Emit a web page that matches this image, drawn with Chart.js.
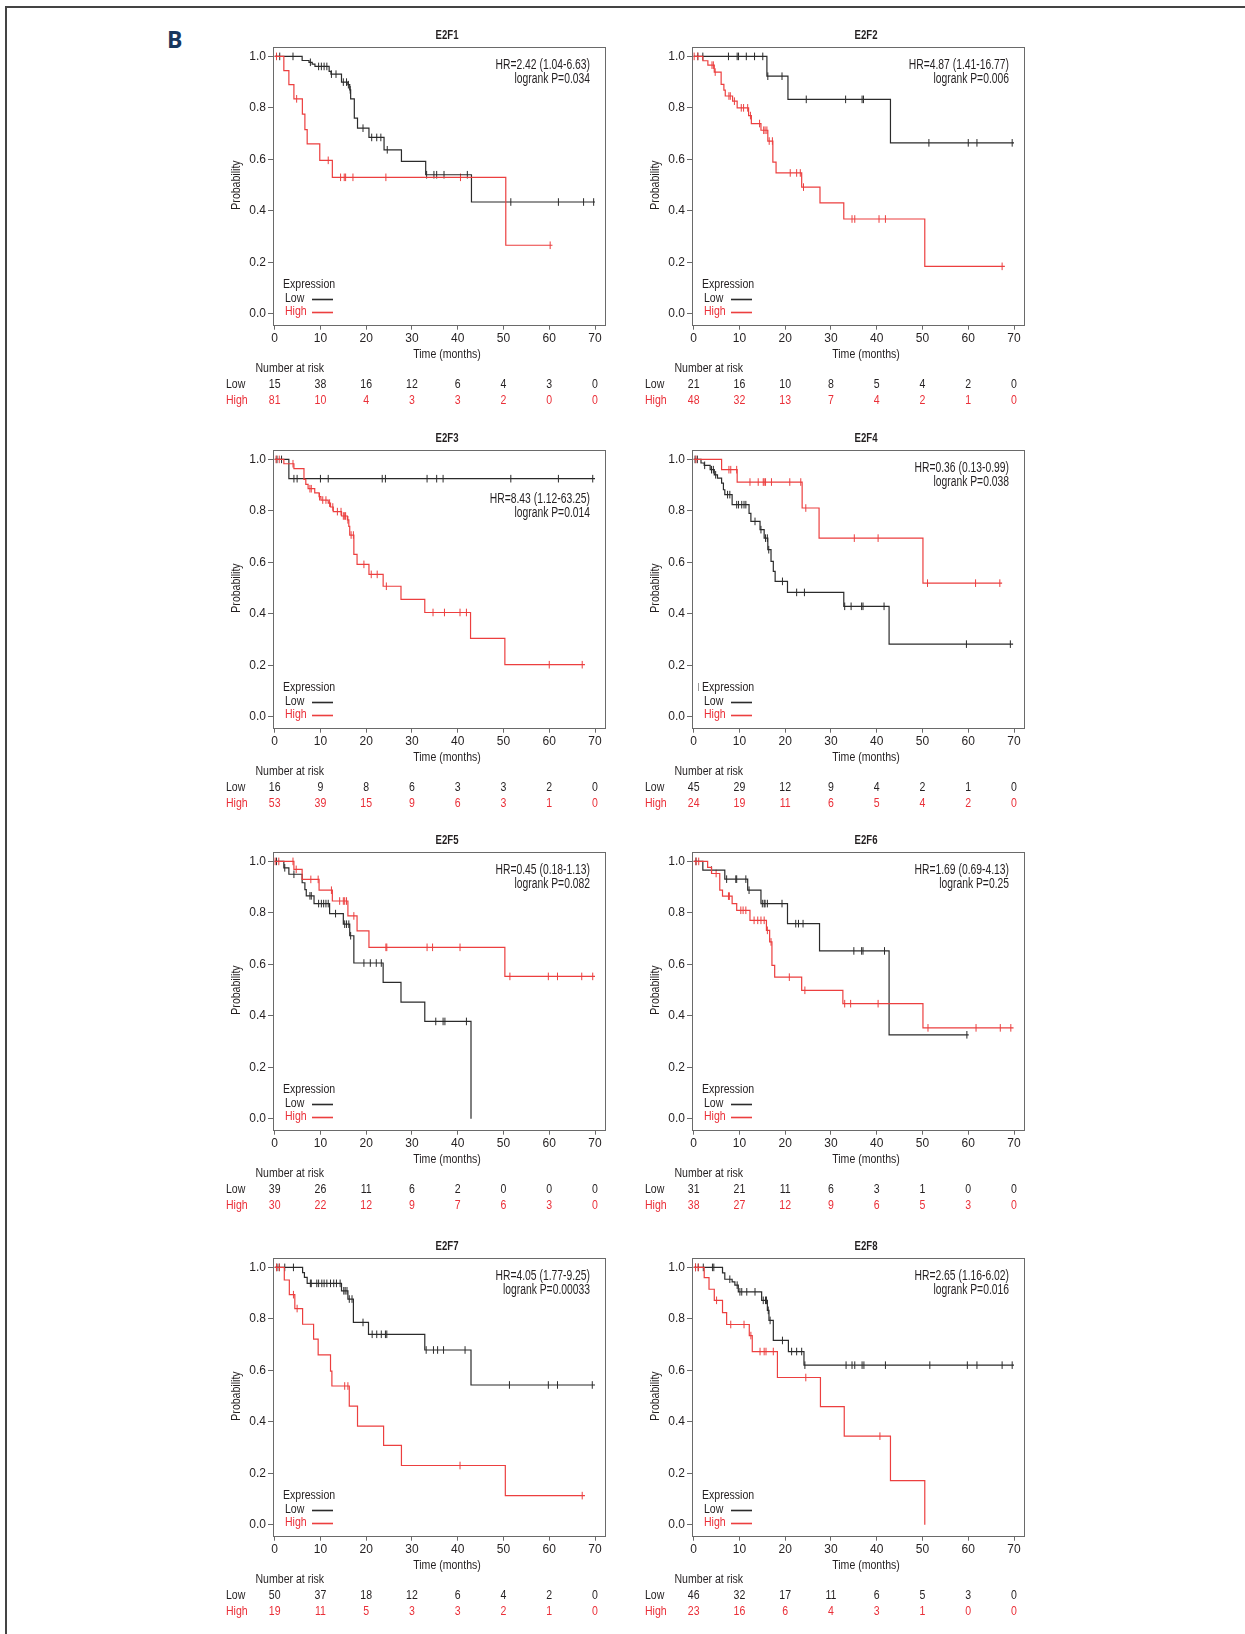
<!DOCTYPE html>
<html>
<head>
<meta charset="utf-8">
<script src="https://cdn.jsdelivr.net/npm/chart.js@4.4.0/dist/chart.umd.min.js"></script>
<style>
  html, body { margin: 0; padding: 0; background: #fff; }
  body { width: 1245px; height: 1634px; position: relative; overflow: hidden; }
  #frame { position: absolute; left: 5px; top: 6px; width: 1300px; height: 1700px;
           border-top: 2px solid #444; border-left: 2px solid #444; }
  #tag { position: absolute; left: 167px; top: 28px; font: bold 23px 'Open Sans', sans-serif;
         line-height: 23px; color: #17365d; }
  canvas { position: absolute; }
</style>
</head>
<body>
<div id="frame"></div>
<div id="tag">B</div>
<script>
// ---- data ----
const genes = ['E2F1', 'E2F2', 'E2F3', 'E2F4', 'E2F5', 'E2F6', 'E2F7', 'E2F8'];
const timeTicks = [0, 10, 20, 30, 40, 50, 60, 70];
const probTicks = [0, 0.2, 0.4, 0.6, 0.8, 1.0];

const hrLines = ['HR=2.42 (1.04-6.63)', 'HR=4.87 (1.41-16.77)', 'HR=8.43 (1.12-63.25)', 'HR=0.36 (0.13-0.99)',
                 'HR=0.45 (0.18-1.13)', 'HR=1.69 (0.69-4.13)', 'HR=4.05 (1.77-9.25)', 'HR=2.65 (1.16-6.02)'];
const pLines = ['logrank P=0.034', 'logrank P=0.006', 'logrank P=0.014', 'logrank P=0.038',
                'logrank P=0.082', 'logrank P=0.25', 'logrank P=0.00033', 'logrank P=0.016'];

// E2F1
const e2f1LowT = [0, 6.0, 7.5, 8.2, 8.8, 11.9, 12.3, 14.6, 16.0, 16.4, 16.6, 17.4, 18.1, 20.6, 23.9, 27.7, 33.0, 43.0, 70.0];
const e2f1LowS = [1, 0.984, 0.977, 0.970, 0.961, 0.942, 0.931, 0.900, 0.890, 0.870, 0.835, 0.760, 0.721, 0.685, 0.637, 0.592, 0.540, 0.434, 0.434];
const e2f1LowC = [1.1, 4.0, 7.8, 9.6, 10.2, 10.8, 11.4, 12.4, 13.4, 15.0, 15.7, 16.1, 16.5, 19.3, 21.2, 22.3, 23.2, 24.6, 33.2, 34.8, 35.4, 37.0, 42.1, 51.6, 62.0, 67.5, 69.7];
const e2f1HighT = [0, 2.0, 3.1, 4.2, 6.05, 6.6, 7.1, 9.85, 12.6, 50.5, 60.7];
const e2f1HighS = [1, 0.945, 0.890, 0.835, 0.776, 0.715, 0.660, 0.596, 0.530, 0.266, 0.266];
const e2f1HighC = [0.4, 4.8, 11.7, 14.4, 15.2, 15.5, 17.1, 24.3, 40.6, 60.2];
const e2f1RiskLow = [15, 38, 16, 12, 6, 4, 3, 0];
const e2f1RiskHigh = [81, 10, 4, 3, 3, 2, 0, 0];

// E2F2
const e2f2LowT = [0, 16.0, 20.6, 43.0, 70.0];
const e2f2LowS = [1, 0.923, 0.833, 0.664, 0.664];
const e2f2LowC = [0.9, 2.0, 7.6, 9.5, 9.8, 11.5, 13.3, 15.1, 16.2, 19.3, 24.6, 33.2, 36.8, 37.1, 51.4, 60.0, 61.9, 69.6];
const e2f2HighT = [0, 2.0, 3.1, 4.5, 6.0, 6.6, 6.9, 8.5, 9.5, 12.0, 12.6, 14.7, 16.2, 17.3, 18.0, 23.6, 27.6, 32.8, 50.5, 68.0];
const e2f2HighS = [1, 0.983, 0.966, 0.939, 0.891, 0.869, 0.846, 0.826, 0.800, 0.770, 0.739, 0.713, 0.671, 0.589, 0.547, 0.492, 0.431, 0.368, 0.184, 0.184];
const e2f2HighC = [0.1, 0.9, 4.0, 4.3, 4.7, 7.7, 8.0, 8.9, 10.4, 10.9, 11.8, 12.4, 14.4, 15.3, 15.6, 16.0, 16.5, 17.2, 21.1, 22.5, 23.3, 24.0, 34.6, 35.2, 40.5, 41.9, 67.4];
const e2f2RiskLow = [21, 16, 10, 8, 5, 4, 2, 0];
const e2f2RiskHigh = [48, 32, 13, 7, 4, 2, 1, 0];

// E2F3
const e2f3LowT = [0, 3.1, 70.0];
const e2f3LowS = [1, 0.925, 0.925];
const e2f3LowC = [0.5, 1.5, 4.2, 4.9, 10.0, 11.7, 23.5, 24.2, 33.3, 35.4, 36.8, 51.6, 62.0, 69.5];
const e2f3HighT = [0, 2.0, 4.2, 6.4, 6.8, 7.3, 8.75, 9.7, 10.1, 11.7, 12.2, 12.8, 14.6, 15.9, 16.2, 16.4, 17.3, 18.0, 20.6, 23.7, 27.6, 32.8, 42.8, 50.3, 67.8];
const e2f3HighS = [1, 0.983, 0.964, 0.922, 0.903, 0.886, 0.870, 0.855, 0.842, 0.830, 0.815, 0.797, 0.780, 0.765, 0.740, 0.706, 0.631, 0.592, 0.553, 0.507, 0.456, 0.405, 0.304, 0.202, 0.202];
const e2f3HighC = [0.3, 1.0, 4.0, 7.7, 8.0, 9.8, 10.5, 11.2, 12.0, 12.7, 13.7, 14.5, 15.0, 15.3, 15.5, 16.0, 16.7, 17.2, 19.5, 21.1, 22.4, 24.4, 34.6, 37.1, 40.5, 41.9, 60.0, 67.2];
const e2f3RiskLow = [16, 9, 8, 6, 3, 3, 2, 0];
const e2f3RiskHigh = [53, 39, 15, 9, 6, 3, 1, 0];

// E2F4
const e2f4LowT = [0, 1.6, 2.3, 3.6, 4.5, 5.2, 6.1, 6.5, 6.8, 8.4, 12.1, 12.5, 14.5, 15.4, 16.2, 16.9, 17.4, 17.8, 20.5, 32.8, 42.7, 69.8];
const e2f4LowS = [1, 0.986, 0.977, 0.960, 0.940, 0.927, 0.908, 0.882, 0.863, 0.824, 0.790, 0.759, 0.727, 0.694, 0.649, 0.604, 0.565, 0.526, 0.483, 0.429, 0.282, 0.282];
const e2f4LowC = [0.3, 0.8, 2.4, 3.9, 4.3, 4.8, 7.4, 7.9, 9.4, 9.8, 10.5, 11.0, 11.4, 13.4, 14.7, 15.7, 16.1, 16.4, 19.4, 22.5, 24.2, 33.0, 34.4, 36.7, 37.0, 41.6, 59.6, 69.2];
const e2f4HighT = [0, 6.1, 9.5, 23.7, 27.4, 50.1, 67.4];
const e2f4HighS = [1, 0.960, 0.912, 0.811, 0.694, 0.519, 0.519];
const e2f4HighC = [0.5, 7.7, 8.1, 9.4, 12.3, 14.1, 15.2, 15.4, 15.7, 17.0, 21.0, 23.4, 24.5, 35.1, 40.3, 51.1, 61.6, 66.9];
const e2f4RiskLow = [45, 29, 12, 9, 4, 2, 1, 0];
const e2f4RiskHigh = [24, 19, 11, 6, 5, 4, 2, 0];

// E2F5
const e2f5LowT = [0, 2.0, 3.1, 6.0, 6.6, 6.9, 8.6, 12.0, 15.0, 16.4, 17.3, 23.7, 27.6, 32.8, 42.9];
const e2f5LowS = [1, 0.975, 0.950, 0.917, 0.890, 0.866, 0.836, 0.797, 0.756, 0.711, 0.605, 0.530, 0.453, 0.378, 0.0];
const e2f5LowC = [0.4, 2.2, 4.2, 7.7, 8.0, 9.6, 10.2, 10.7, 11.2, 11.7, 13.3, 15.3, 15.7, 16.2, 16.6, 19.5, 20.9, 22.2, 23.3, 35.2, 36.8, 37.2, 41.9];
const e2f5HighT = [0, 4.2, 6.0, 9.7, 12.6, 16.0, 18.0, 20.6, 50.3, 70.0];
const e2f5HighS = [1, 0.969, 0.930, 0.888, 0.846, 0.788, 0.730, 0.666, 0.553, 0.553];
const e2f5HighC = [0.1, 0.9, 4.0, 4.7, 7.9, 9.5, 12.4, 14.2, 15.0, 15.3, 15.7, 17.3, 24.3, 24.5, 33.3, 34.5, 40.5, 51.4, 59.8, 61.8, 67.1, 69.5];
const e2f5RiskLow = [39, 26, 11, 6, 2, 0, 0, 0];
const e2f5RiskHigh = [30, 22, 12, 9, 7, 6, 3, 0];

// E2F6
const e2f6LowT = [0, 2.0, 6.8, 11.8, 14.7, 20.5, 27.5, 42.7, 60.1];
const e2f6LowS = [1, 0.966, 0.931, 0.888, 0.836, 0.758, 0.652, 0.326, 0.326];
const e2f6LowC = [0.5, 3.9, 7.2, 9.2, 9.4, 11.4, 12.1, 15.0, 15.4, 15.6, 16.1, 19.3, 22.3, 22.9, 23.9, 35.0, 36.7, 37.0, 41.7, 59.7];
const e2f6HighT = [0, 3.05, 3.9, 5.7, 6.3, 8.4, 9.4, 12.3, 15.9, 16.6, 17.1, 17.7, 23.6, 32.6, 50.1, 69.9];
const e2f6HighS = [1, 0.977, 0.953, 0.888, 0.865, 0.836, 0.810, 0.771, 0.732, 0.687, 0.596, 0.550, 0.499, 0.447, 0.353, 0.353];
const e2f6HighC = [0.5, 1.1, 4.9, 7.6, 7.8, 10.3, 10.8, 11.4, 13.2, 14.0, 14.7, 15.4, 16.1, 16.9, 20.9, 24.3, 33.0, 34.3, 40.3, 51.2, 61.7, 67.0, 69.3];
const e2f6RiskLow = [31, 21, 11, 6, 3, 1, 0, 0];
const e2f6RiskHigh = [38, 27, 12, 9, 6, 5, 3, 0];

// E2F7
const e2f7LowT = [0, 6.1, 6.5, 7.1, 14.6, 16.0, 17.2, 20.5, 32.8, 42.9, 70.0];
const e2f7LowS = [1, 0.980, 0.961, 0.938, 0.909, 0.877, 0.786, 0.740, 0.679, 0.543, 0.543];
const e2f7LowC = [0.5, 1.0, 2.2, 4.1, 7.8, 8.0, 9.2, 9.6, 10.3, 10.8, 11.4, 12.2, 12.9, 13.5, 14.3, 15.1, 15.4, 15.8, 16.3, 16.9, 19.3, 21.3, 22.3, 23.3, 24.2, 24.5, 33.1, 34.7, 35.6, 36.9, 41.6, 51.3, 59.8, 61.8, 69.4];
const e2f7HighT = [0, 2.1, 3.2, 4.4, 6.1, 8.5, 9.5, 12.2, 12.5, 16.3, 18.1, 23.8, 27.7, 50.4, 67.8];
const e2f7HighS = [1, 0.951, 0.894, 0.840, 0.779, 0.721, 0.660, 0.597, 0.539, 0.461, 0.383, 0.308, 0.230, 0.113, 0.113];
const e2f7HighC = [0.4, 1.0, 4.1, 4.9, 15.3, 16.0, 40.5, 67.2];
const e2f7RiskLow = [50, 37, 18, 12, 6, 4, 2, 0];
const e2f7RiskHigh = [19, 11, 5, 3, 3, 2, 1, 0];

// E2F8
const e2f8LowT = [0, 6.3, 6.8, 8.4, 9.0, 9.75, 14.85, 16.1, 16.45, 17.4, 20.7, 24.1, 70.0];
const e2f8LowS = [1, 0.979, 0.954, 0.944, 0.931, 0.905, 0.872, 0.833, 0.794, 0.716, 0.673, 0.620, 0.620];
const e2f8LowC = [0.4, 1.0, 2.1, 4.1, 4.4, 7.9, 9.5, 10.1, 10.5, 11.6, 13.4, 15.2, 15.7, 15.9, 16.3, 16.7, 19.4, 21.4, 22.5, 23.6, 24.3, 33.3, 34.6, 35.2, 36.8, 37.2, 41.9, 51.6, 59.8, 61.9, 67.4, 69.6];
const e2f8HighT = [0, 2.3, 3.35, 4.5, 6.3, 7.2, 12.15, 12.8, 18.3, 27.7, 32.9, 43.0, 50.5];
const e2f8HighS = [1, 0.960, 0.915, 0.872, 0.824, 0.778, 0.735, 0.673, 0.572, 0.459, 0.344, 0.171, 0.0];
const e2f8HighC = [0.4, 1.0, 5.0, 8.1, 11.0, 12.5, 14.5, 15.4, 15.8, 17.4, 24.5, 40.7];
const e2f8RiskLow = [46, 32, 17, 11, 6, 5, 3, 0];
const e2f8RiskHigh = [23, 16, 6, 4, 3, 1, 0, 0];

// ---- look ----
const BLACK = '#2b2b2b';
const RED = '#ec3f3f';
const TXT = '#231f20';
const TXT_RED = '#ea2f38';
const AXIS = '#6a6a6a';

// pick a narrow face if it exists, else squeeze a normal one
function hasFont(name) {
  const c = document.createElement('canvas').getContext('2d');
  c.font = '40px monospace';
  const a = c.measureText('mmmwwwiii0123HR').width;
  c.font = "40px '" + name + "', monospace";
  return c.measureText('mmmwwwiii0123HR').width !== a;
}
const NARROW = hasFont('Liberation Sans Narrow');
const FAM = NARROW ? "'Liberation Sans Narrow', sans-serif" : "'Liberation Sans', Arial, sans-serif";
const K = NARROW ? 1 : 0.82;        // extra squeeze for a normal-width face
const SX_TXT = 0.99 * K;
const SX_HR = 0.9 * K;
const SX_BOLD = 0.9 * K;
const TICK_SIZE = NARROW ? 13.5 : 12;

function put(ctx, s, x, y, align, size, bold, color, sx, rot) {
  ctx.save();
  ctx.translate(x, y);
  if (rot) ctx.rotate(rot);
  ctx.scale(sx, 1);
  ctx.font = (bold ? 'bold ' : '') + size + 'px ' + FAM;
  ctx.fillStyle = color;
  ctx.textAlign = align;
  ctx.textBaseline = 'middle';
  ctx.fillText(s, 0, 0);
  ctx.restore();
}

function curve(ts, ss) {
  return ts.map((t, i) => ({ x: t, y: ss[i] }));
}
// censor marks sit on the step curve
function marks(cs, ts, ss) {
  return cs.map(c => {
    let v = ss[0];
    for (let i = 0; i < ts.length; i++) if (ts[i] <= c) v = ss[i];
    return { x: c, y: v };
  });
}

const panels = [
  { lowT: e2f1LowT, lowS: e2f1LowS, lowC: e2f1LowC, highT: e2f1HighT, highS: e2f1HighS, highC: e2f1HighC, rl: e2f1RiskLow, rh: e2f1RiskHigh, hrY: 18 },
  { lowT: e2f2LowT, lowS: e2f2LowS, lowC: e2f2LowC, highT: e2f2HighT, highS: e2f2HighS, highC: e2f2HighC, rl: e2f2RiskLow, rh: e2f2RiskHigh, hrY: 18 },
  { lowT: e2f3LowT, lowS: e2f3LowS, lowC: e2f3LowC, highT: e2f3HighT, highS: e2f3HighS, highC: e2f3HighC, rl: e2f3RiskLow, rh: e2f3RiskHigh, hrY: 49 },
  { lowT: e2f4LowT, lowS: e2f4LowS, lowC: e2f4LowC, highT: e2f4HighT, highS: e2f4HighS, highC: e2f4HighC, rl: e2f4RiskLow, rh: e2f4RiskHigh, hrY: 18, stray: true },
  { lowT: e2f5LowT, lowS: e2f5LowS, lowC: e2f5LowC, highT: e2f5HighT, highS: e2f5HighS, highC: e2f5HighC, rl: e2f5RiskLow, rh: e2f5RiskHigh, hrY: 18 },
  { lowT: e2f6LowT, lowS: e2f6LowS, lowC: e2f6LowC, highT: e2f6HighT, highS: e2f6HighS, highC: e2f6HighC, rl: e2f6RiskLow, rh: e2f6RiskHigh, hrY: 18 },
  { lowT: e2f7LowT, lowS: e2f7LowS, lowC: e2f7LowC, highT: e2f7HighT, highS: e2f7HighS, highC: e2f7HighC, rl: e2f7RiskLow, rh: e2f7RiskHigh, hrY: 18 },
  { lowT: e2f8LowT, lowS: e2f8LowS, lowC: e2f8LowC, highT: e2f8HighT, highS: e2f8HighS, highC: e2f8HighC, rl: e2f8RiskLow, rh: e2f8RiskHigh, hrY: 18 }
];

// frame, titles, legend, HR text and the risk table
const kmDecor = {
  id: 'kmDecor',
  afterDraw(chart, args, o) {
    const ctx = chart.ctx, a = chart.chartArea, xs = chart.scales.x, ys = chart.scales.y;
    const L = a.left, T = a.top;
    ctx.save();
    ctx.strokeStyle = AXIS;
    ctx.lineWidth = 1;
    ctx.strokeRect(Math.round(L) - 0.5, Math.round(T) + 0.5, Math.round(a.right - L), Math.round(a.bottom - T));

    put(ctx, o.gene, L + 173, T - 12, 'center', 13, true, TXT, SX_BOLD);
    put(ctx, o.hr, L + 316, T + o.hrY, 'right', 14, false, TXT, SX_HR);
    put(ctx, o.p, L + 316, T + o.hrY + 14, 'right', 14, false, TXT, SX_HR);

    // legend
    put(ctx, 'Expression', L + 9, T + 237, 'left', 13, false, TXT, SX_TXT);
    put(ctx, 'Low', L + 11, T + 251, 'left', 13, false, TXT, SX_TXT);
    put(ctx, 'High', L + 11, T + 264.5, 'left', 13, false, TXT_RED, SX_TXT);
    ctx.lineWidth = 1.6;
    ctx.strokeStyle = BLACK;
    ctx.beginPath(); ctx.moveTo(L + 38, T + 252.5); ctx.lineTo(L + 59, T + 252.5); ctx.stroke();
    ctx.strokeStyle = RED;
    ctx.beginPath(); ctx.moveTo(L + 38, T + 265.5); ctx.lineTo(L + 59, T + 265.5); ctx.stroke();
    if (o.stray) {
      ctx.strokeStyle = '#999';
      ctx.lineWidth = 1;
      ctx.beginPath(); ctx.moveTo(L + 5.5, T + 233); ctx.lineTo(L + 5.5, T + 241); ctx.stroke();
    }

    // axis titles
    const yMid = (ys.getPixelForValue(0) + ys.getPixelForValue(1)) / 2;
    put(ctx, 'Probability', L - 38, yMid, 'center', 13, false, TXT, SX_TXT, -Math.PI / 2);
    put(ctx, 'Time (months)', L + 173, T + 307.5, 'center', 13, false, TXT, SX_TXT);

    // number at risk
    put(ctx, 'Number at risk', L - 18.5, T + 321, 'left', 13, false, TXT, SX_TXT);
    put(ctx, 'Low', L - 48, T + 337.5, 'left', 13, false, TXT, SX_TXT);
    put(ctx, 'High', L - 48, T + 353, 'left', 13, false, TXT_RED, SX_TXT);
    timeTicks.forEach((t, i) => {
      const px = xs.getPixelForValue(t);
      put(ctx, String(o.rl[i]), px, T + 337.5, 'center', 13, false, TXT, SX_TXT);
      put(ctx, String(o.rh[i]), px, T + 353, 'center', 13, false, TXT_RED, SX_TXT);
    });
    ctx.restore();
  }
};

const CW = 410, CH = 395;
const colLeft = [215, 634];
const rowTop = [17, 420, 822, 1228];

panels.forEach((p, i) => {
  const cv = document.createElement('canvas');
  cv.width = CW; cv.height = CH;
  cv.style.width = CW + 'px'; cv.style.height = CH + 'px';
  cv.style.left = colLeft[i % 2] + 'px';
  cv.style.top = rowTop[Math.floor(i / 2)] + 'px';
  document.body.appendChild(cv);

  const tickFont = { family: FAM, size: TICK_SIZE };
  new Chart(cv, {
    type: 'line',
    data: {
      datasets: [
        { data: curve(p.highT, p.highS), borderColor: RED, borderWidth: 1.2, stepped: 'before', pointRadius: 0, fill: false },
        { data: curve(p.lowT, p.lowS), borderColor: BLACK, borderWidth: 1.2, stepped: 'before', pointRadius: 0, fill: false },
        { data: marks(p.highC, p.highT, p.highS), showLine: false, pointStyle: 'line', rotation: 90, pointRadius: 3.8,
          pointBorderColor: RED, pointBackgroundColor: RED, pointBorderWidth: 1 },
        { data: marks(p.lowC, p.lowT, p.lowS), showLine: false, pointStyle: 'line', rotation: 90, pointRadius: 3.8,
          pointBorderColor: BLACK, pointBackgroundColor: BLACK, pointBorderWidth: 1 }
      ]
    },
    options: {
      responsive: false,
      animation: false,
      devicePixelRatio: 1,
      layout: { padding: { left: 0, top: 30, right: 19, bottom: 57.3 } },
      plugins: {
        legend: { display: false },
        tooltip: { enabled: false },
        kmDecor: { gene: genes[i], hr: hrLines[i], p: pLines[i], hrY: p.hrY, rl: p.rl, rh: p.rh, stray: !!p.stray }
      },
      scales: {
        x: {
          type: 'linear', min: -0.15, max: 72.4,
          afterBuildTicks: s => { s.ticks = timeTicks.map(v => ({ value: v })); },
          afterFit: s => { s.height = 30; },
          ticks: { color: TXT, font: tickFont, padding: 2, maxRotation: 0, autoSkip: false, callback: v => String(v) },
          grid: { drawOnChartArea: false, tickLength: 5, tickColor: AXIS, tickWidth: 1 },
          border: { display: false }
        },
        y: {
          type: 'linear', min: -0.0428, max: 1.0365,
          afterBuildTicks: s => { s.ticks = probTicks.map(v => ({ value: v })); },
          afterFit: s => { s.width = 59; },
          ticks: { color: TXT, font: tickFont, padding: 2, callback: v => v.toFixed(1) },
          grid: { drawOnChartArea: false, tickLength: 6, tickColor: AXIS, tickWidth: 1 },
          border: { display: false }
        }
      }
    },
    plugins: [kmDecor]
  });
});
</script>
</body>
</html>
